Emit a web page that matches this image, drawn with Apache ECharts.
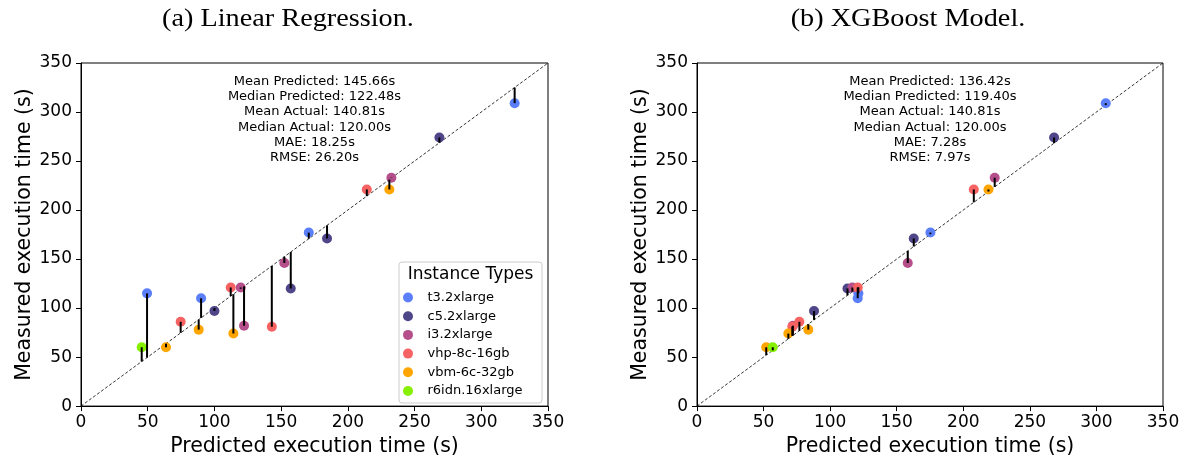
<!DOCTYPE html>
<html>
<head>
<meta charset="utf-8">
<script src="https://cdn.jsdelivr.net/npm/echarts@6/dist/echarts.min.js"></script>
<style>html,body{margin:0;padding:0;background:#fff}#c{width:1192px;height:462px}</style>
</head>
<body>
<div id="c"></div>
<script>
// ---- data ----
const instanceTypes = ['t3.2xlarge', 'c5.2xlarge', 'i3.2xlarge', 'vhp-8c-16gb', 'vbm-6c-32gb', 'r6idn.16xlarge'];
const typeColors = ['#5b7ff9', '#4f4689', '#b44f8b', '#f76262', '#ffa500', '#86f000'];
// measured (actual) execution time per instance type
const measured = [
  [115, 110, 177, 309],
  [97, 120, 171, 274],
  [121, 82, 146, 233],
  [86, 121, 81, 221],
  [60, 78, 74, 221],
  [60]
];
// Linear Regression predictions (same order as measured)
const lrPredicted = [
  [49.5, 90, 170.7, 325],
  [100, 157.2, 184.4, 268.6],
  [119.7, 122.2, 152.4, 232.6],
  [74.7, 112.2, 143, 214.2],
  [63.7, 88.2, 114.2, 231.1],
  [45.5]
];
// XGBoost predictions
const xgbPredicted = [
  [121.2, 120.7, 175.3, 307],
  [87.9, 113, 162.8, 268.2],
  [116.7, 72, 158.3, 223.6],
  [76.9, 120.7, 71.6, 207.9],
  [52, 83.6, 68.6, 218.9],
  [56.9]
];
const lrStats = ['Mean Predicted: 145.66s', 'Median Predicted: 122.48s', 'Mean Actual: 140.81s', 'Median Actual: 120.00s', 'MAE: 18.25s', 'RMSE: 26.20s'];
const xgbStats = ['Mean Predicted: 136.42s', 'Median Predicted: 119.40s', 'Mean Actual: 140.81s', 'Median Actual: 120.00s', 'MAE: 7.28s', 'RMSE: 7.97s'];
const panelTitles = ['(a) Linear Regression.', '(b) XGBoost Model.'];
const axisMin = 0, axisMax = 350, axisStep = 50;
const xName = 'Predicted execution time (s)';
const yName = 'Measured execution time (s)';

// ---- chart ----
const chart = echarts.init(document.getElementById('c'), null, {renderer: 'canvas'});
const sans = 'DejaVu Sans';
const grids = [
  {left: 81, top: 63, width: 467, height: 346},
  {left: 697, top: 63, width: 466, height: 346}
];
const preds = [lrPredicted, xgbPredicted];
const stats = [lrStats, xgbStats];
const titleX = [288, 908];

function axisCommon(name, isX) {
  return {
    type: 'value', min: axisMin, max: axisMax, interval: axisStep,
    name: name, nameLocation: 'middle', nameGap: isX ? 29 : 46,
    nameTextStyle: {fontFamily: sans, fontSize: 20.5, color: '#000'},
    axisLine: {show: true, lineStyle: {color: '#000', width: 1}},
    axisTick: {show: true, inside: false, length: 5, lineStyle: {color: '#000', width: 1}},
    axisLabel: {fontFamily: sans, fontSize: 17, color: '#000', margin: isX ? 8 : 9},
    splitLine: {show: false}
  };
}

const xAxes = [], yAxes = [], series = [], graphics = [];
grids.forEach((g, gi) => {
  xAxes.push(Object.assign(axisCommon(xName, true), {gridIndex: gi}));
  yAxes.push(Object.assign(axisCommon(yName, false), {gridIndex: gi}));
  // diagonal
  series.push({
    type: 'line', xAxisIndex: gi, yAxisIndex: gi, data: [[axisMin, axisMin], [axisMax, axisMax]],
    symbol: 'none', silent: true, z: 1,
    lineStyle: {color: '#000', width: 0.8, type: [3, 2]}
  });
  // scatter per type
  const resid = [];
  instanceTypes.forEach((t, ti) => {
    const pts = preds[gi][ti].map((p, k) => [p, measured[ti][k]]);
    pts.forEach(pt => resid.push(pt));
    series.push({
      type: 'scatter', name: t, xAxisIndex: gi, yAxisIndex: gi, data: pts,
      symbolSize: 10, z: 2,
      itemStyle: {color: typeColors[ti], opacity: 1}
    });
  });
  // residual segments (predicted -> diagonal)
  series.push({
    type: 'custom', xAxisIndex: gi, yAxisIndex: gi, data: resid, z: 3, silent: true,
    renderItem: function (params, api) {
      const p = api.value(0), a = api.value(1);
      const s = api.coord([p, a]);
      const e = api.coord([p, p]);
      return {type: 'line', shape: {x1: s[0], y1: s[1], x2: e[0], y2: e[1]},
        style: {stroke: '#000', lineWidth: 2}};
    }
  });
  // stats text
  graphics.push({
    type: 'text', x: g.left + g.width / 2, y: 74, z: 5,
    style: {text: stats[gi].join('\n'), textAlign: 'center', textVerticalAlign: 'top', fontFamily: sans, fontSize: 13,
      lineHeight: 15.2, fill: '#000'}
  });
  // panel title
  graphics.push({type: 'text', x: titleX[gi], y: 19, z: 5, scaleX: 1.13,
    style: {text: panelTitles[gi], textAlign: 'center', textVerticalAlign: 'middle', fontFamily: 'Liberation Serif', fontSize: 25, fill: '#000'}});
});

// legend frame + title
graphics.push({type: 'rect', z: 3, shape: {x: 399, y: 262, width: 143, height: 141, r: 3},
  style: {fill: 'rgba(255,255,255,0.8)', stroke: '#cccccc', lineWidth: 1}});
graphics.push({type: 'text', x: 470.5, y: 275, z: 5,
  style: {text: 'Instance Types', textAlign: 'center', textVerticalAlign: 'middle', fontFamily: sans, fontSize: 17, fill: '#000'}});

chart.setOption({
  animation: false,
  backgroundColor: '#fff',
  grid: grids.map(g => Object.assign({show: true, borderColor: '#000', borderWidth: 1, backgroundColor: 'transparent'}, g)),
  xAxis: xAxes,
  yAxis: yAxes,
  legend: {
    data: instanceTypes, orient: 'vertical', left: 403, top: 291, padding: 0,
    itemWidth: 29, itemHeight: 10, itemGap: 5.7, icon: 'circle', selectedMode: false,
    textStyle: {fontFamily: sans, fontSize: 13, color: '#000', lineHeight: 13}, z: 6
  },
  graphic: graphics,
  series: series
});
</script>
</body>
</html>
